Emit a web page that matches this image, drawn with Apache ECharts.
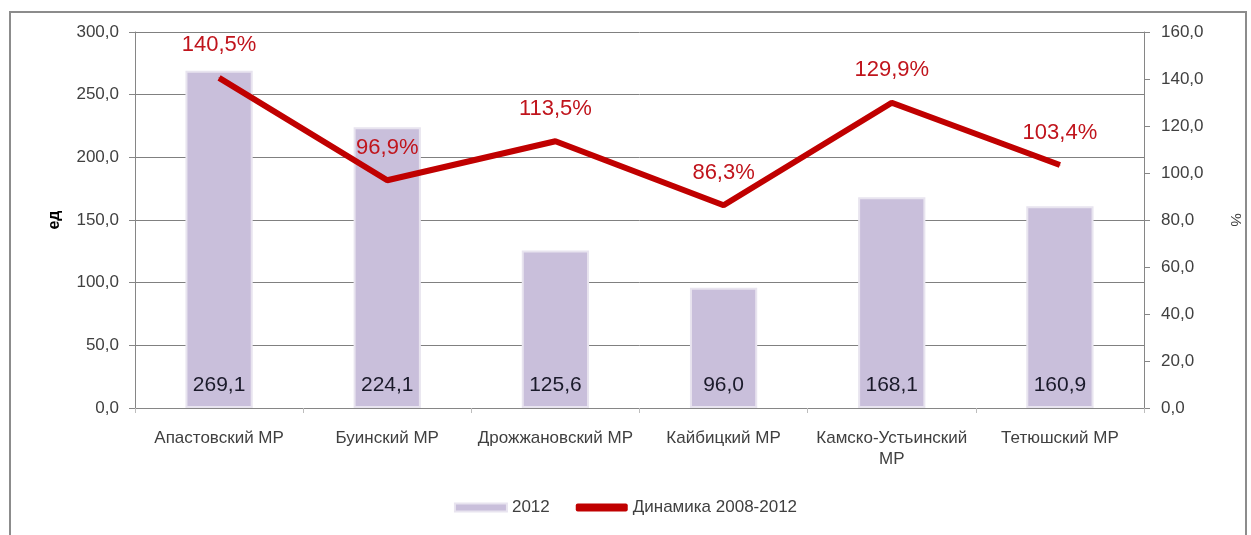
<!DOCTYPE html>
<html>
<head>
<meta charset="utf-8">
<script src="https://cdn.jsdelivr.net/npm/echarts@6/dist/echarts.min.js"></script>
<style>
  html, body { margin: 0; padding: 0; background: #fff; }
  #chart { width: 1251px; height: 535px; }
</style>
</head>
<body>
<div id="chart"></div>
<script>
// данные диаграммы
const categories = ['Апастовский МР', 'Буинский МР', 'Дрожжановский МР', 'Кайбицкий МР', 'Камско-Устьинский\nМР', 'Тетюшский МР'];
const values2012 = [269.1, 224.1, 125.6, 96.0, 168.1, 160.9];
const dynamics = [140.5, 96.9, 113.5, 86.3, 129.9, 103.4];
const leftTicks = [0, 50, 100, 150, 200, 250, 300];
const rightTicks = [0, 20, 40, 60, 80, 100, 120, 140, 160];

const fmt = v => Number(v).toFixed(1).replace('.', ',');

const chart = echarts.init(document.getElementById('chart'));

const option = {
    backgroundColor: '#fff',
    textStyle: { fontFamily: 'Liberation Sans, Arial, sans-serif' },
    graphic: [{
        type: 'rect',
        shape: { x: 10, y: 12, width: 1236, height: 540 },
        style: { fill: 'none', stroke: '#8c8c8c', lineWidth: 2 },
        silent: true
    }],
    grid: { left: 135, right: 107, top: 32, bottom: 127 },
    legend: {
        bottom: 14,
        left: 'center',
        itemGap: 26,
        textStyle: { fontSize: 17, color: '#404040' },
        data: [
            { name: '2012', icon: 'rect', itemStyle: { color: '#c9bfdb' } },
            { name: 'Динамика 2008-2012', icon: 'roundRect', itemStyle: { color: '#c00000' } }
        ],
        itemWidth: 52,
        itemHeight: 8
    },
    xAxis: {
        type: 'category',
        data: categories,
        axisLine: { lineStyle: { color: '#868686', width: 1 } },
        axisTick: { show: true, length: 5, lineStyle: { color: '#bdbdbd' } },
        axisLabel: { fontSize: 17, color: '#404040', margin: 20, lineHeight: 21, interval: 0 }
    },
    yAxis: [
        {
            type: 'value',
            min: leftTicks[0],
            max: leftTicks[leftTicks.length - 1],
            interval: 50,
            name: 'ед',
            nameLocation: 'middle',
            nameGap: 72,
            nameRotate: 90,
            nameTextStyle: { fontSize: 16, fontWeight: 'bold', color: '#000' },
            axisLine: { show: true, lineStyle: { color: '#868686' } },
            axisTick: { show: true, length: 6, lineStyle: { color: '#868686' } },
            axisLabel: { fontSize: 17, color: '#404040', margin: 16, formatter: fmt },
            splitLine: { lineStyle: { color: '#808080', width: 1 } }
        },
        {
            type: 'value',
            min: rightTicks[0],
            max: rightTicks[rightTicks.length - 1],
            interval: 20,
            name: '%',
            nameLocation: 'middle',
            nameGap: 84,
            nameRotate: -90,
            nameTextStyle: { fontSize: 15, color: '#404040' },
            axisLine: { show: true, lineStyle: { color: '#868686' } },
            axisTick: { show: true, length: 6, lineStyle: { color: '#868686' } },
            axisLabel: { fontSize: 17, color: '#404040', margin: 17, formatter: fmt },
            splitLine: { show: false }
        }
    ],
    series: [
        {
            name: '2012',
            type: 'bar',
            yAxisIndex: 0,
            data: values2012,
            barWidth: '40%',
            itemStyle: { color: '#c9bfdb', borderColor: '#e8e4ef', borderWidth: 2 },
            label: {
                show: true,
                position: 'insideBottom',
                distance: 12,
                fontSize: 21,
                color: '#1a1a2a',
                formatter: p => fmt(p.value)
            },
            z: 2
        },
        {
            name: 'Динамика 2008-2012',
            type: 'line',
            yAxisIndex: 1,
            data: dynamics,
            showSymbol: true,
            symbol: 'circle',
            symbolSize: 1,
            lineStyle: { color: '#c00000', width: 6 },
            itemStyle: { color: '#c00000' },
            label: {
                show: true,
                position: 'top',
                distance: 21,
                fontSize: 22,
                color: '#c0141c',
                formatter: p => fmt(p.value) + '%'
            },
            z: 3
        }
    ]
};

chart.setOption(option);
</script>
</body>
</html>
